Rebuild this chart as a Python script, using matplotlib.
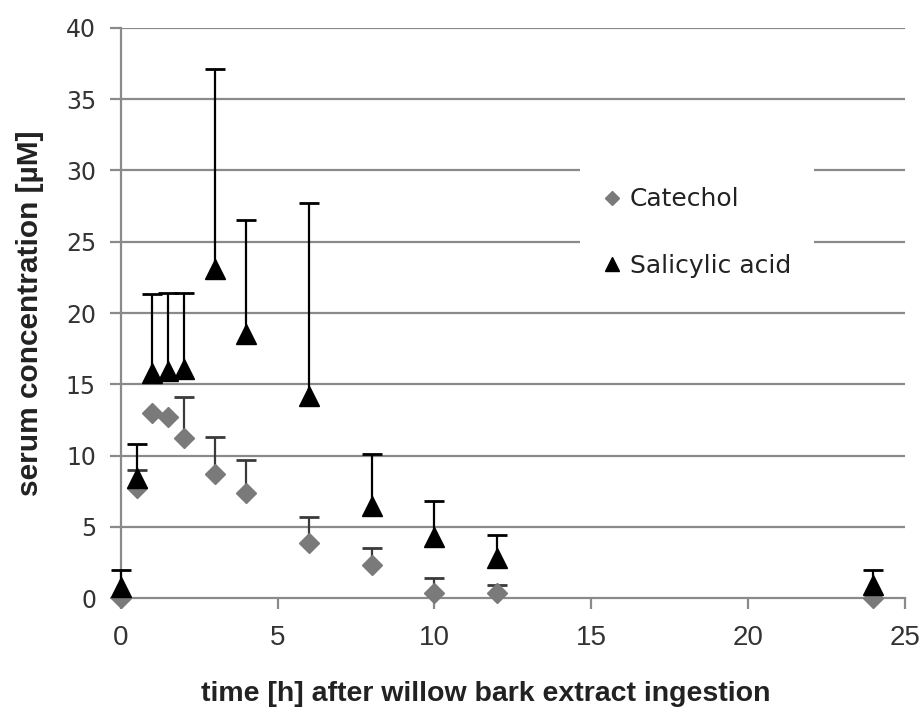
import numpy as np
import matplotlib.pyplot as plt

# time points [h]
t = [0, 0.5, 1, 1.5, 2, 3, 4, 6, 8, 10, 12, 24]

catechol = [0.0, 7.7, 13.0, 12.7, 11.2, 8.7, 7.4, 3.9, 2.3, 0.4, 0.4, 0.0]
catechol_err = [0.0, 1.3, 0.0, 0.0, 2.9, 2.6, 2.3, 1.8, 1.2, 1.0, 0.5, 0.0]

salicylic = [0.8, 8.4, 15.8, 15.9, 16.1, 23.1, 18.5, 14.2, 6.5, 4.3, 2.8, 0.9]
salicylic_err = [1.2, 2.4, 5.5, 5.5, 5.3, 14.0, 8.0, 13.5, 3.6, 2.5, 1.6, 1.1]

yticks = [0, 5, 10, 15, 20, 25, 30, 35, 40]
xticks = [0, 5, 10, 15, 20, 25]

fig = plt.figure(figsize=(9.24, 7.13), dpi=100)
ax = fig.add_axes([0.131, 0.161, 0.848, 0.800])

grid_col = '#8a8a8a'
narrow = ['Liberation Sans Narrow', 'Liberation Sans', 'DejaVu Sans']
for y in yticks[1:]:
    ax.axhline(y, color=grid_col, lw=1.6, zorder=0)


def upper_bars(x, y, err, color, z):
    # only the upper half of each error bar is shown
    x = np.asarray(x, float)
    y = np.asarray(y, float)
    err = np.asarray(err, float)
    m = err > 0
    ax.vlines(x[m], y[m], y[m] + err[m], color=color, lw=1.6, zorder=z, clip_on=False)
    ax.plot(x[m], y[m] + err[m], '_', color=color, ms=14, mew=2.0, zorder=z, clip_on=False)


upper_bars(t, catechol, catechol_err, '#3a3a3a', 2)
upper_bars(t, salicylic, salicylic_err, 'black', 3)
ax.plot(t, catechol, 'D', color='#7a7a7a', ms=10, ls='none', label='Catechol',
        zorder=3, clip_on=False)
ax.plot(t, salicylic, '^', color='black', ms=14, ls='none', label='Salicylic acid',
        zorder=4, clip_on=False)

ax.set_xlim(0, 25)
ax.set_ylim(0, 40)
ax.set_xticks(xticks)
ax.set_yticks(yticks)
ax.spines['top'].set_visible(False)
ax.spines['right'].set_visible(False)
for s in ['left', 'bottom']:
    ax.spines[s].set_color(grid_col)
    ax.spines[s].set_linewidth(1.6)
ax.tick_params(axis='both', colors=grid_col, width=1.6, length=8, labelcolor='#333333')
ax.tick_params(axis='y', labelsize=17, pad=10)
ax.tick_params(axis='x', labelsize=20, pad=11)
for lab in ax.get_xticklabels():
    lab.set_family(narrow)
for lab in ax.get_yticklabels():
    lab.set_family('DejaVu Sans')

ax.set_xlabel('time [h] after willow bark extract ingestion', fontsize=20.5, fontweight='bold',
              family=narrow, color='#222222')
ax.xaxis.set_label_coords(0.465, -0.145)
ax.set_ylabel('serum concentration [µM]', fontsize=21.5, fontweight='bold',
              family=narrow, color='#222222')
ax.yaxis.set_label_coords(-0.098, 0.5)

leg = ax.legend(loc='upper left', bbox_to_anchor=(0.5855, 0.7596),
                frameon=True, facecolor='white', edgecolor='none', framealpha=1,
                labelspacing=1.7, handletextpad=0.3, handlelength=0.8,
                borderpad=0.9, borderaxespad=0, markerscale=0.75,
                prop={'family': 'DejaVu Sans', 'size': 18})
leg.get_frame().set_boxstyle('square', pad=0)
leg.set_zorder(5)
for txt in leg.get_texts():
    txt.set_color('#222222')

fig.savefig('out.png', dpi=100)
